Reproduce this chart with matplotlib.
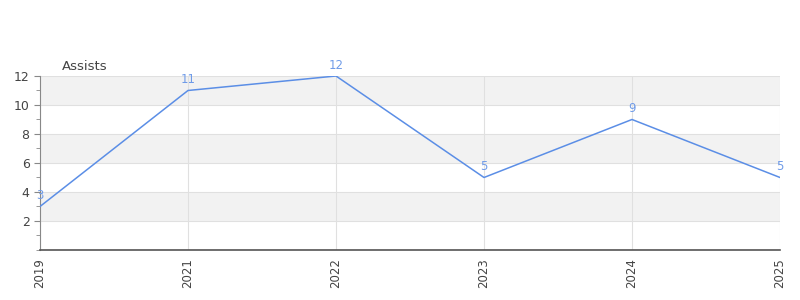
import matplotlib
matplotlib.use("Agg")
import matplotlib.pyplot as plt
from matplotlib.ticker import MultipleLocator

years = ["2019", "2021", "2022", "2023", "2024", "2025"]
assists = [3, 11, 12, 5, 9, 5]
title = "Assists"

line_color = "#5b8ee6"
text_color = "#444444"

fig = plt.figure(figsize=(8, 3), dpi=100)
ax = fig.add_axes([0.05, 0.1667, 0.925, 0.58])

x = list(range(len(years)))
ax.set_xlim(0, len(years) - 1)
ax.set_ylim(0, 12)

# alternating bands
for lo in range(0, 12, 2):
    if (lo // 2) % 2 == 1:
        ax.axhspan(lo, lo + 2, color="#f2f2f2", zorder=0, lw=0)
for v in range(2, 13, 2):
    ax.axhline(v, color="#e0e0e0", lw=0.8, zorder=1)
for xi in x:
    ax.axvline(xi, color="#e0e0e0", lw=0.8, zorder=1)

ax.plot(x, assists, color=line_color, lw=1.1, zorder=3)
for xi, v in zip(x, assists):
    ax.annotate(str(v), (xi, v), textcoords="offset points", xytext=(0, 3),
                ha="center", va="bottom", fontsize=8.5, color="#6f9be8", zorder=4)

ax.axhline(0, color="#cc2222", lw=0.8, zorder=2)

ax.set_xticks(x)
ax.set_xticklabels(years, rotation=90, fontsize=8.5, color=text_color)
ax.set_yticks([2, 4, 6, 8, 10, 12])
ax.yaxis.set_minor_locator(MultipleLocator(1))
ax.tick_params(axis="y", labelsize=9, colors=text_color, length=4, color="#888888")
ax.tick_params(axis="y", which="minor", length=3, color="#888888")
ax.tick_params(axis="x", length=0, pad=6)

for s in ["top", "right"]:
    ax.spines[s].set_visible(False)
ax.spines["left"].set_color("#888888")
ax.spines["bottom"].set_color("#555555")
ax.spines["bottom"].set_linewidth(1.2)

fig.text(62 / 800, 1 - 66 / 300, title, fontsize=9.5, color=text_color, ha="left", va="center")

fig.savefig("out.png", dpi=100)
